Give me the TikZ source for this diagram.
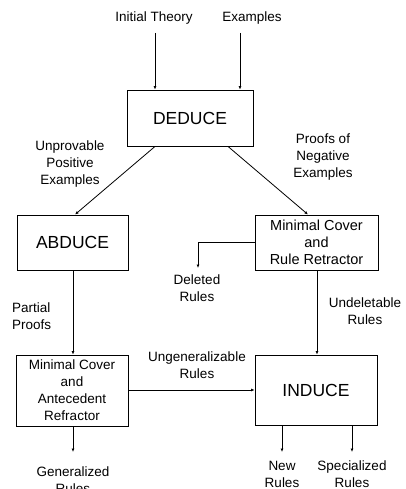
\documentclass[tikz,border=0pt]{standalone}
\usepackage{fontspec}
\setmainfont{Liberation Sans}
\usetikzlibrary{arrows.meta}
\begin{document}
\begin{tikzpicture}[x=1pt,y=-1pt,
  box/.style={draw,line width=0.9pt,inner sep=0pt,align=center},
  big/.style={font=\fontsize{17.5}{20}\selectfont},
  small/.style={align=center,inner sep=0pt,font=\fontsize{13.5}{17}\selectfont},
  conn/.style={line width=0.8pt},
  arr/.style={conn,-{Latex[length=3.5pt,width=3pt]}}]
\useasboundingbox (0,0) rectangle (406,489);

% boxes
\node[box,big,minimum width=126pt,minimum height=56pt] (deduce) at (190,118) {DEDUCE};
\node[box,big,minimum width=111pt,minimum height=55pt] (abduce) at (72.5,242.5) {ABDUCE};
\node[box,minimum width=123pt,minimum height=55pt,font=\fontsize{14.5}{17}\selectfont] (mcrr) at (316.5,242.5) {Minimal Cover\\and\\Rule Retractor};
\node[box,minimum width=112pt,minimum height=71pt,font=\fontsize{13.5}{17}\selectfont] (mcar) at (72,390.5) {Minimal Cover\\and\\Antecedent\\Refractor};
\node[box,big,minimum width=122pt,minimum height=70pt] (induce) at (316,390) {INDUCE};

% input and output texts
\node[small] (init) at (154,18) {Initial Theory};
\node[small] (exs) at (252,18) {Examples};
\node[small] (upe) at (70,164) {Unprovable\\Positive\\Examples};
\node[small] (pne) at (323,157) {Proofs of\\Negative\\Examples};
\node[small,align=left,anchor=west] (pp) at (12,316) {Partial\\Proofs};
\node[small] (deleted) at (197,288) {Deleted\\Rules};
\node[small] (undel) at (365,311.5) {Undeletable\\Rules};
\node[small] (ungen) at (197,365) {Ungeneralizable\\Rules};
\node[small,anchor=north] (gen) at (73,467) {Generalized\\Rules};
\node[small] (newr) at (282,474.5) {New\\Rules};
\node[small] (spec) at (352,474.5) {Specialized\\Rules};

% connector end points
\coordinate (itop) at (155,33);
\coordinate (etop) at (240,33);
\coordinate (delend) at (198,268);
\coordinate (genend) at (73,452);
\coordinate (newend) at (282,452);
\coordinate (specend) at (352,452);

% connectors
\draw[arr,line width=1pt] (itop) -- (itop |- deduce.north);
\draw[arr,line width=1pt] (etop) -- (etop |- deduce.north);
\draw[arr] (deduce.south -| 155,0) -- (abduce.north -| 75,0);
\draw[arr] (deduce.south -| 228,0) -- (mcrr.north -| 308,0);
\draw[arr] (abduce.south -| 73,0) -- (mcar.north -| 73,0);
\draw[arr] (mcrr.west) -| (delend);
\draw[arr] (mcrr.south -| 317,0) -- (induce.north -| 317,0);
\draw[arr] (mcar.east |- 0,390) -- (induce.west |- 0,390);
\draw[arr] (mcar.south -| genend) -- (genend);
\draw[arr] (induce.south -| newend) -- (newend);
\draw[arr] (induce.south -| specend) -- (specend);
\end{tikzpicture}
\end{document}
